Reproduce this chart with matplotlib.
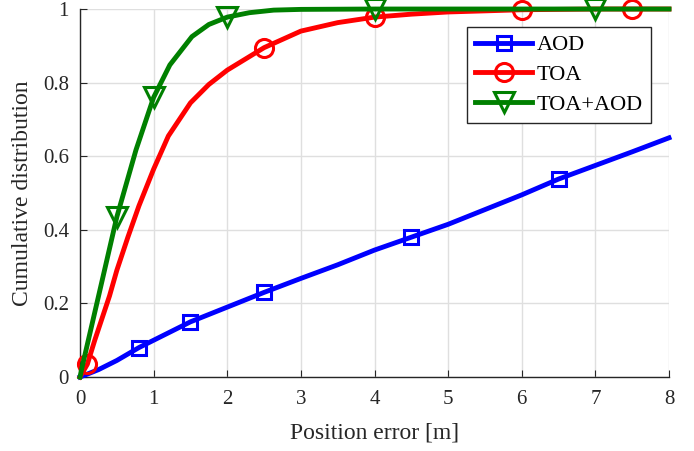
import numpy as np
import matplotlib
matplotlib.use("Agg")
import matplotlib.pyplot as plt
from matplotlib.ticker import FuncFormatter

# AOD curve
aod_x = [0, 0.25, 0.5, 0.8, 1.0, 1.5, 2.0, 2.5, 3.0, 3.5, 4.0, 4.5, 5.0, 5.5, 6.0, 6.5, 7.0, 7.5, 8.0]
aod_y = [0, 0.02, 0.045, 0.08, 0.10, 0.15, 0.19, 0.23, 0.268, 0.305, 0.345, 0.38, 0.415, 0.455, 0.495, 0.538, 0.575, 0.612, 0.65]
aod_marks = [3, 5, 7, 11, 15]

# TOA curve
toa_x = [0, 0.1, 0.2, 0.3, 0.4, 0.5, 0.65, 0.8, 1.0, 1.2, 1.5, 1.75, 2.0, 2.5, 3.0, 3.5, 4.0, 4.5, 5.0, 6.0, 7.0, 7.5, 8.0]
toa_y = [0, 0.035, 0.1, 0.16, 0.22, 0.29, 0.38, 0.465, 0.565, 0.655, 0.745, 0.795, 0.834, 0.895, 0.94, 0.963, 0.978, 0.986, 0.992, 0.998, 1.0, 1.0, 1.0]
toa_marks = [1, 13, 16, 19, 21]

# TOA+AOD curve
both_x = [0, 0.02, 0.24, 0.5, 0.76, 1.0, 1.22, 1.52, 1.75, 2.0, 2.3, 2.63, 3.0, 4.0, 5.0, 6.0, 7.0, 8.0]
both_y = [0, 0.02, 0.21, 0.435, 0.617, 0.76, 0.848, 0.925, 0.958, 0.978, 0.99, 0.997, 0.999, 1, 1, 1, 1, 1]
both_marks = [3, 5, 9, 13, 16]

plt.rcParams['font.family'] = ['Liberation Serif', 'DejaVu Serif']

fig = plt.figure(figsize=(6.94, 4.51), dpi=100)
ax = fig.add_axes([0.1153, 0.164, 0.8487, 0.816])

lw = 3.5
ax.plot(aod_x, aod_y, color='#0000ff', lw=lw, marker='s', ms=10, mfc='none', mew=2.2,
        markevery=aod_marks, label='AOD', clip_on=False, zorder=3)
ax.plot(toa_x, toa_y, color='#ff0000', lw=lw, marker='o', ms=13, mfc='none', mew=2.2,
        markevery=toa_marks, label='TOA', clip_on=False, zorder=3)
ax.plot(both_x, both_y, color='#008000', lw=lw, marker='v', ms=14, mfc='none', mew=2.2,
        markevery=both_marks, label='TOA+AOD', clip_on=False, zorder=3)

ax.set_xlim(0, 8)
ax.set_ylim(0, 1)
ax.set_xticks(np.arange(0, 9, 1))
ax.set_yticks(np.arange(0, 1.01, 0.2))
ax.yaxis.set_major_formatter(FuncFormatter(lambda v, p: '%g' % round(v, 2)))
ax.grid(True, color='#dfdfdf', lw=1)
ax.set_axisbelow(True)
for s in ['top', 'right']:
    ax.spines[s].set_visible(False)
for s in ['left', 'bottom']:
    ax.spines[s].set_color('#262626')
    ax.spines[s].set_linewidth(1)
ax.tick_params(direction='in', length=5, color='#262626', labelcolor='#262626', labelsize=15)
ax.tick_params(axis='x', pad=9)
ax.tick_params(axis='y', pad=8)

ax.set_xlabel('Position error [m]', fontsize=17, color='#262626', labelpad=10)
ax.set_ylabel('Cumulative distribution', fontsize=17, color='#262626', labelpad=7)

leg = ax.legend(loc='upper right', bbox_to_anchor=(0.969, 0.951), borderaxespad=0,
                fancybox=False, framealpha=1, edgecolor='#262626', fontsize=16,
                handlelength=2.6, handletextpad=0.2, labelspacing=0.42, borderpad=0.35)
leg.get_frame().set_linewidth(1)

fig.savefig('out.png', dpi=100)
